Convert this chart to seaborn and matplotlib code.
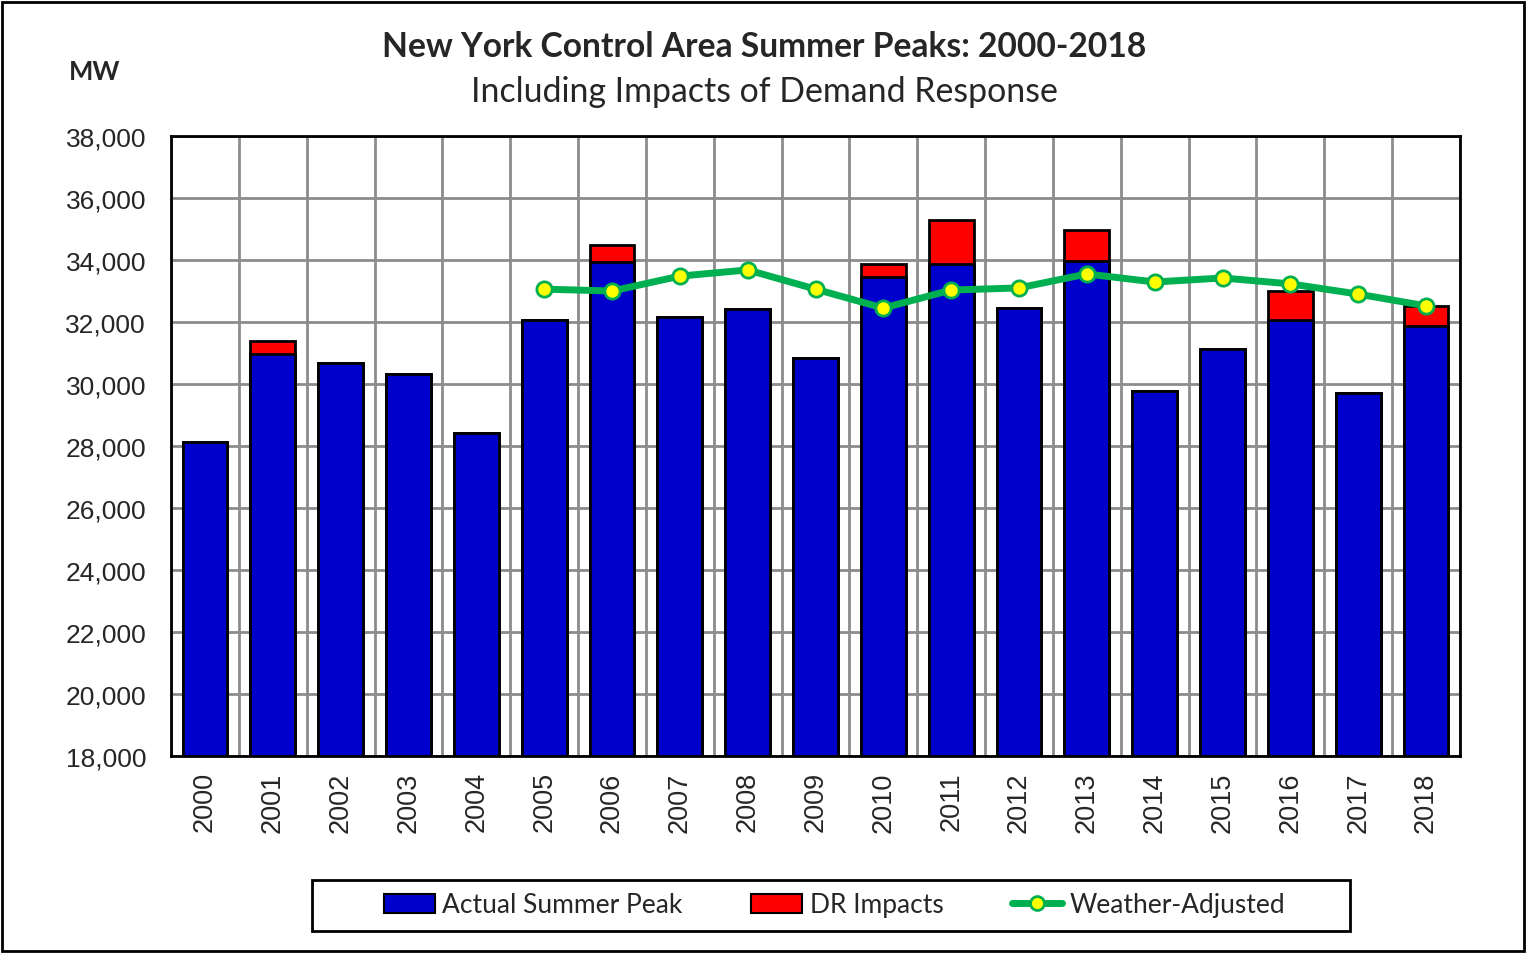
import matplotlib
matplotlib.use("Agg")
import matplotlib.pyplot as plt
import seaborn as sns
import numpy as np
import pandas as pd
from matplotlib.patches import Patch, Rectangle
from matplotlib.lines import Line2D
from matplotlib.ticker import FuncFormatter, MultipleLocator

years = [str(y) for y in range(2000, 2019)]
actual_peak = [28138, 30982, 30664, 30333, 28433, 32075, 33939, 32169, 32432, 30844,
               33452, 33865, 32439, 33956, 29782, 31138, 32076, 29699, 31861]
dr_impacts = [0, 420, 0, 0, 0, 0, 530, 0, 0, 0,
              420, 1420, 0, 1000, 0, 0, 930, 0, 650]
weather_adjusted = [np.nan, np.nan, np.nan, np.nan, np.nan, 33060, 33000, 33480, 33680, 33060,
                    32450, 33030, 33100, 33550, 33290, 33420, 33230, 32900, 32520]

title = "New York Control Area Summer Peaks: 2000-2018"
subtitle = "Including Impacts of Demand Response"

df = pd.DataFrame({
    "year": years,
    "actual": actual_peak,
    "total": np.array(actual_peak) + np.array(dr_impacts),
    "wa": weather_adjusted,
})
df["pos"] = np.arange(len(df))

sns.set_style("white")
plt.rcParams["font.family"] = ["Liberation Sans", "DejaVu Sans"]

W, H = 1527, 954
fig = plt.figure(figsize=(W / 100, H / 100), dpi=100)
ax = fig.add_axes([171 / W, 1 - 757 / H, (1460 - 171) / W, (757 - 137) / H])

BLUE = "#0000CC"
RED = "#FF0000"
GREEN = "#00B050"
YELLOW = "#FFFF00"

sns.barplot(data=df, x="year", y="total", color=RED, saturation=1, width=0.66,
            edgecolor="black", linewidth=2, ax=ax, zorder=3)
sns.barplot(data=df, x="year", y="actual", color=BLUE, saturation=1, width=0.66,
            edgecolor="black", linewidth=2, ax=ax, zorder=4)
sns.lineplot(data=df, x="pos", y="wa", color=GREEN, linewidth=5, marker="o",
             markersize=11, markerfacecolor=YELLOW, markeredgecolor=GREEN,
             markeredgewidth=2, ax=ax, zorder=5)

ax.set_ylim(18000, 38000)
ax.set_xlim(-0.5, len(years) - 0.5)
ax.set_xlabel("")
ax.set_ylabel("")

ax.yaxis.set_major_locator(MultipleLocator(2000))
ax.yaxis.set_minor_locator(MultipleLocator(1000))
ax.yaxis.set_major_formatter(FuncFormatter(lambda v, p: f"{int(v):,}"))
ax.set_xticks(np.arange(len(years)))
ax.set_xticklabels(years, rotation=90, fontsize=19.5)
ax.set_xticks(np.arange(len(years) + 1) - 0.5, minor=True)

ax.tick_params(axis="x", which="major", length=0, pad=11)
ax.tick_params(axis="x", which="minor", length=9, width=2, color="black", direction="out")
ax.tick_params(axis="y", which="major", length=11, width=2, color="black", direction="out",
               labelsize=19, pad=7)
ax.tick_params(axis="y", which="minor", length=6, width=2, color="black", direction="out")

ax.grid(False)
ax.grid(True, axis="y", which="major", color="#8C8C8C", linewidth=2, zorder=0)
ax.grid(True, axis="x", which="minor", color="#8C8C8C", linewidth=2, zorder=0)
ax.set_axisbelow(True)

for s in ax.spines.values():
    s.set_color("black")
    s.set_linewidth(2)
    s.set_zorder(6)

fig.text(764 / W, 1 - 47 / H, title, ha="center", va="center", fontsize=24.2,
         fontweight="bold", family=["Lato", "DejaVu Sans"])
fig.text(764 / W, 1 - 92 / H, subtitle, ha="center", va="center", fontsize=24.4,
         family=["Lato", "DejaVu Sans"])
fig.text(95 / W, 1 - 72 / H, "MW", ha="center", va="center", fontsize=18.5,
         fontweight="bold", family=["Lato", "DejaVu Sans"])

handles = [
    Patch(facecolor=BLUE, edgecolor="black", linewidth=1.5),
    Patch(facecolor=RED, edgecolor="black", linewidth=1.5),
    Line2D([], [], color=GREEN, linewidth=5, marker="o", markersize=10,
           markerfacecolor=YELLOW, markeredgecolor=GREEN, markeredgewidth=2),
]
labels = ["Actual Summer Peak", "DR Impacts", "Weather-Adjusted"]
leg = fig.legend(handles, labels, loc="center", bbox_to_anchor=(835 / W, 1 - 906 / H),
                 ncol=3, frameon=False,
                 prop={"family": ["Lato", "DejaVu Sans"], "size": 19},
                 handlelength=1.9, handletextpad=0.3, columnspacing=2.6,
                 borderpad=0.3)

fig.patches.append(Rectangle((312 / W, 1 - 932 / H), (1350 - 312) / W, (932 - 881) / H,
                             transform=fig.transFigure, fill=False, edgecolor="black",
                             linewidth=2))
fig.patches.append(Rectangle((2 / W, 2 / H), 1 - 5 / W, 1 - 5 / H, transform=fig.transFigure,
                             fill=False, edgecolor="black", linewidth=2))

fig.savefig("out.png", dpi=100, facecolor="white")
